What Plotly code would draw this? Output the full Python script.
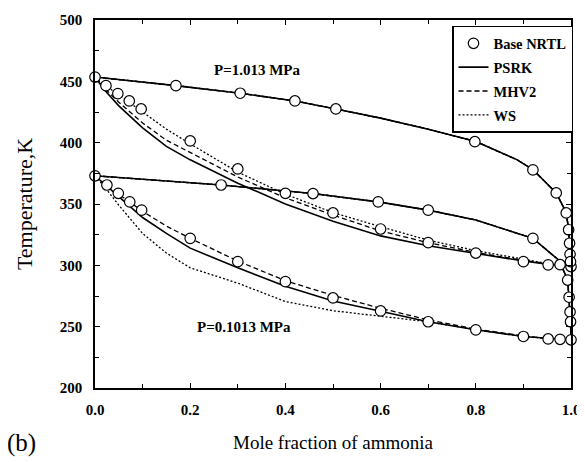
import plotly.graph_objects as go

# ---------------- data ----------------
# P = 1.013 MPa, bubble line (liquid)
hp_bub_x = [0, 0.02, 0.05, 0.1, 0.15, 0.2, 0.3, 0.4, 0.5, 0.6, 0.7, 0.8, 0.9, 0.95, 1.0]
hp_bub_psrk = [453.5, 443, 430, 412, 397, 386, 367, 350, 336, 324, 316, 309.5, 303.5, 301, 299]
hp_bub_mhv2 = [453.5, 444.5, 433, 416, 402, 392, 372, 355, 341, 328, 318.5, 310.5, 304, 301.5, 299]
hp_bub_ws = [453.5, 447, 439, 425, 411, 399, 376, 358, 343, 331.5, 320.5, 312, 305, 301.5, 299]

# P = 1.013 MPa, dew line (vapour)
hp_dew_x = [0, 0.17, 0.305, 0.42, 0.506, 0.6, 0.7, 0.8, 0.887, 0.92, 0.969, 0.99, 0.995, 0.998, 1.0]
hp_dew_psrk = [453.5, 446.5, 440.3, 434, 427.5, 420, 411, 401, 386, 378, 359, 343, 329, 315, 299]
hp_dew_mhv2 = hp_dew_psrk
hp_dew_ws = hp_dew_psrk

# P = 0.1013 MPa, bubble line
lp_bub_x = [0, 0.02, 0.05, 0.1, 0.15, 0.2, 0.3, 0.4, 0.5, 0.6, 0.7, 0.8, 0.9, 0.95, 1.0]
lp_bub_psrk = [373, 366, 356, 339, 326, 314, 298, 283, 271, 262.5, 254, 247.5, 242, 240.5, 239.5]
lp_bub_mhv2 = [373, 366, 358, 344, 332, 322, 303.5, 287.5, 275.5, 265, 255.5, 248, 242.5, 240.5, 239.5]
lp_bub_ws = [373, 364, 349, 326, 310, 298, 285.5, 270.5, 263, 258.5, 254, 247.5, 242, 240.5, 239.5]

# P = 0.1013 MPa, dew line
lp_dew_x = [0, 0.265, 0.458, 0.595, 0.70, 0.8, 0.92, 0.975, 0.993, 0.996, 0.998, 0.999, 1.0]
lp_dew_psrk = [373, 365.5, 358.5, 351.7, 345, 337, 322, 304, 288, 274, 262, 254, 239.5]
lp_dew_mhv2 = lp_dew_psrk
lp_dew_ws = lp_dew_psrk

# Base NRTL points
nrtl_hp_bub_x = [0, 0.023, 0.048, 0.072, 0.097, 0.2, 0.3, 0.4, 0.5, 0.6, 0.7, 0.8, 0.9, 0.952, 0.977, 1.0]
nrtl_hp_bub_t = [453.5, 446.5, 440, 434, 427.5, 401.4, 378.6, 358.7, 342.7, 329.6, 318.5, 310, 303, 300.4, 300.5, 299]
nrtl_hp_dew_x = [0.17, 0.305, 0.42, 0.506, 0.798, 0.92, 0.969, 0.99, 0.995, 0.997, 0.998, 0.999]
nrtl_hp_dew_t = [446.5, 440.3, 434, 427.5, 400.8, 377.8, 359, 342.7, 329, 318, 309, 303]
nrtl_lp_bub_x = [0, 0.025, 0.049, 0.073, 0.098, 0.2, 0.3, 0.4, 0.5, 0.6, 0.7, 0.8, 0.9, 0.952, 0.977, 1.0]
nrtl_lp_bub_t = [373, 365.5, 358.7, 351.7, 345, 322, 303, 286.7, 273.4, 262.8, 254, 247.4, 242, 240, 239.7, 239.3]
nrtl_lp_dew_x = [0.265, 0.458, 0.595, 0.70, 0.92, 0.993, 0.996, 0.998, 0.999]
nrtl_lp_dew_t = [365.5, 358.5, 351.7, 345, 322, 288, 274, 262, 254]

x_ticks = [0.0, 0.2, 0.4, 0.6, 0.8, 1.0]
y_ticks = [200, 250, 300, 350, 400, 450, 500]

SERIF = "Liberation Serif, Times New Roman, serif"


def join(*parts):
    xs, ys = [], []
    for px, py in parts:
        xs += list(px) + [None]
        ys += list(py) + [None]
    return xs[:-1], ys[:-1]


fig = go.Figure()

models = [
    ("PSRK", "solid", 1.6, (hp_bub_psrk, hp_dew_psrk, lp_bub_psrk, lp_dew_psrk)),
    ("MHV2", "5px,3px", 1.3, (hp_bub_mhv2, hp_dew_mhv2, lp_bub_mhv2, lp_dew_mhv2)),
    ("WS", "2px,2px", 1.3, (hp_bub_ws, hp_dew_ws, lp_bub_ws, lp_dew_ws)),
]
for rank, (name, dash, w, (a, b, c, d)) in enumerate(models, start=2):
    xs, ys = join((hp_bub_x, a), (hp_dew_x, b), (lp_bub_x, c), (lp_dew_x, d))
    fig.add_trace(go.Scatter(
        x=xs, y=ys, mode="lines", name=name, legendrank=rank, legendgroup=name,
        line=dict(color="black", width=w, dash=dash), connectgaps=False,
        cliponaxis=False))

px_, py_ = join((nrtl_hp_bub_x, nrtl_hp_bub_t), (nrtl_hp_dew_x, nrtl_hp_dew_t),
                (nrtl_lp_bub_x, nrtl_lp_bub_t), (nrtl_lp_dew_x, nrtl_lp_dew_t))
fig.add_trace(go.Scatter(
    x=px_, y=py_, mode="markers", name="Base NRTL", legendrank=1, legendgroup="nrtl",
    marker=dict(symbol="circle", size=10.5, color="white",
                line=dict(color="black", width=1.2)),
    cliponaxis=False))

axis_common = dict(
    showline=True, linecolor="black", linewidth=1.5, mirror="ticks",
    ticks="inside", ticklen=5, tickwidth=1.2, tickcolor="black",
    showgrid=False, zeroline=False, automargin=False,
    tickfont=dict(family=SERIF, size=15, color="black", weight="bold"),
)

fig.update_xaxes(
    range=[0, 1], tickvals=x_ticks, ticktext=[f"{v:.1f}" for v in x_ticks],
    minor=dict(ticks="inside", ticklen=4, dtick=0.1, tickwidth=1.1, tickcolor="black"),
    ticklabelstandoff=7,
    title=dict(text="Mole fraction of ammonia", standoff=19,
               font=dict(family=SERIF, size=19, color="black")),
    **axis_common)
fig.update_yaxes(
    range=[200, 500], tickvals=y_ticks,
    minor=dict(ticks="inside", ticklen=4, dtick=25, tickwidth=1.1, tickcolor="black"),
    ticklabelstandoff=8,
    title=dict(text="Temperature,K", standoff=21,
               font=dict(family=SERIF, size=22, color="black")),
    **axis_common)

fig.add_annotation(x=0.342, y=459, xref="x", yref="y", text="P=1.013 MPa",
                   showarrow=False, font=dict(family=SERIF, size=15, color="black", weight="bold"))
fig.add_annotation(x=0.312, y=250, xref="x", yref="y", text="P=0.1013 MPa",
                   showarrow=False, font=dict(family=SERIF, size=15, color="black", weight="bold"))
fig.add_annotation(x=-0.189, y=-0.15, xref="paper", yref="paper", text="(b)",
                   showarrow=False, xanchor="left", yanchor="middle",
                   font=dict(family=SERIF, size=25, color="black"))

# the page body has an 8 px margin, so the figure is drawn 8 px shorter and narrower
fig.update_layout(
    width=577, height=454,
    margin=dict(l=87, r=14, t=12, b=74),
    paper_bgcolor="white", plot_bgcolor="white",
    showlegend=True,
    legend=dict(x=0.75, y=0.984, xanchor="left", yanchor="top",
                bgcolor="white", bordercolor="black", borderwidth=1.5,
                tracegroupgap=2, itemwidth=30,
                font=dict(family=SERIF, size=14.5, color="black", weight="bold")),
)

fig.write_html("out.html")
